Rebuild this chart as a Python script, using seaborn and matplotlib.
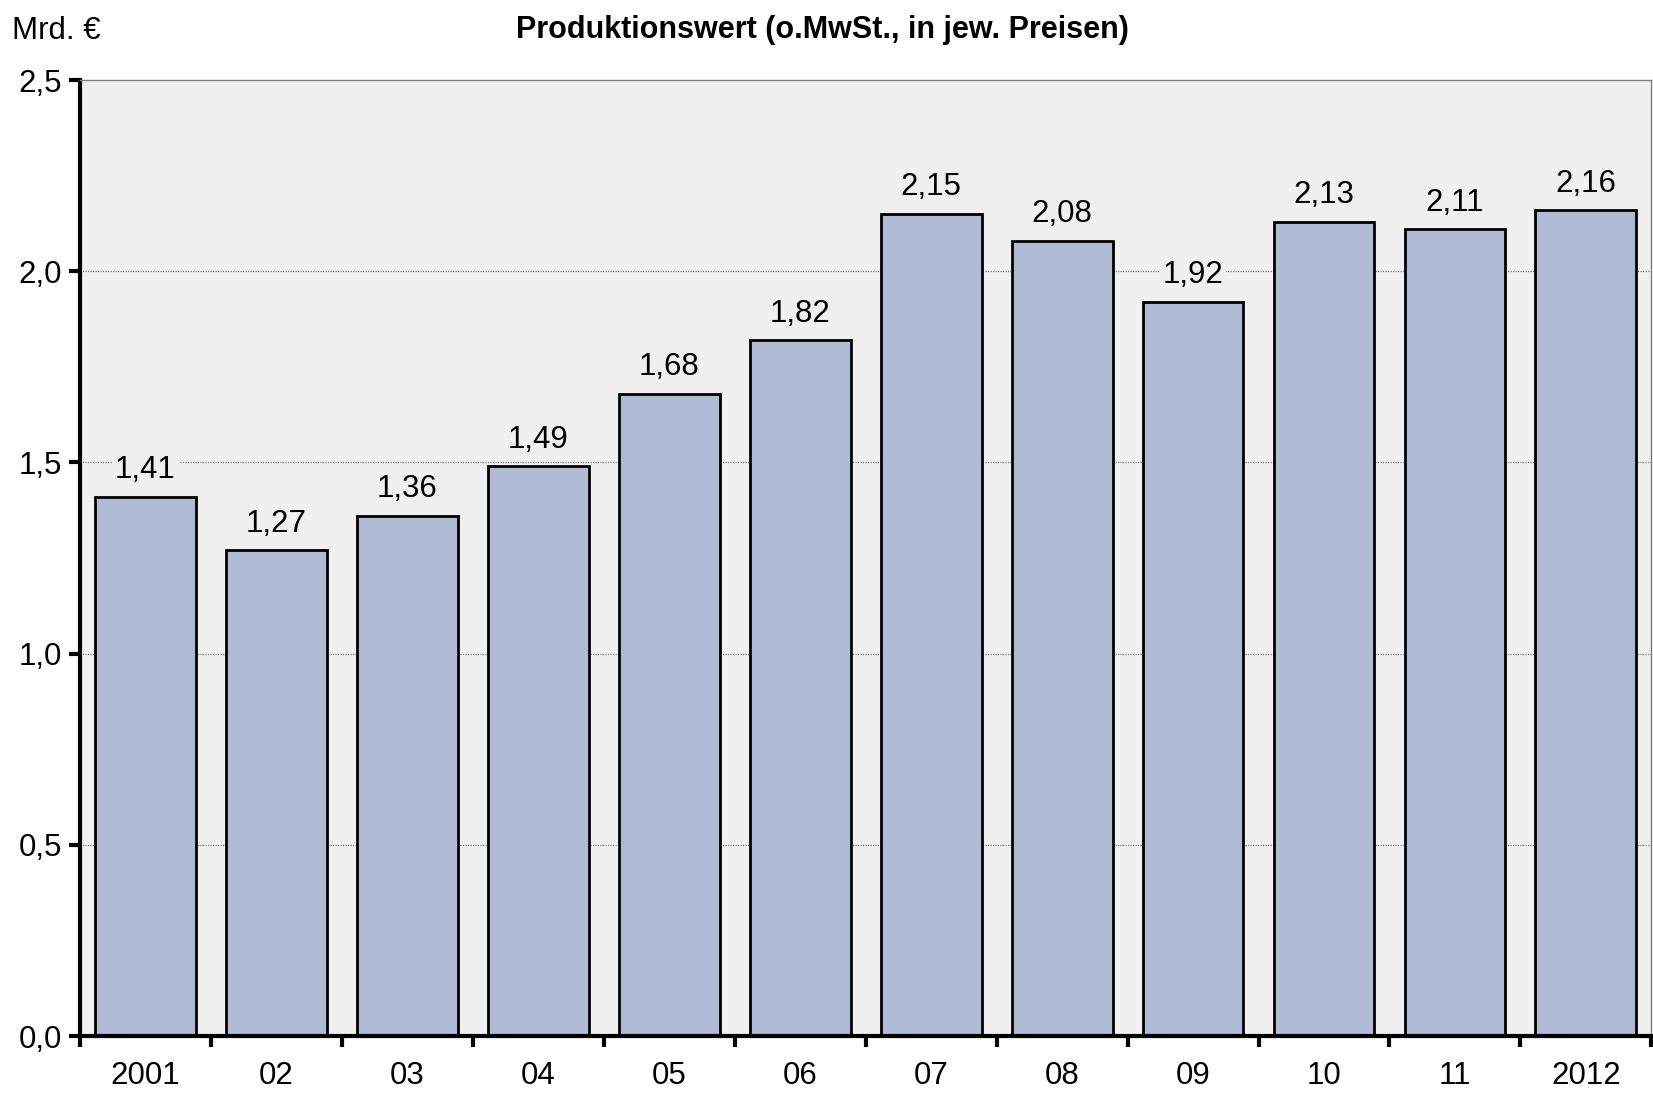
import numpy as np
import pandas as pd
import matplotlib
matplotlib.use('Agg')
import matplotlib.pyplot as plt
import seaborn as sns

# Daten
jahre = ['2001', '02', '03', '04', '05', '06', '07', '08', '09', '10', '11', '2012']
werte = [1.41, 1.27, 1.36, 1.49, 1.68, 1.82, 2.15, 2.08, 1.92, 2.13, 2.11, 2.16]
y_ticks = [0.0, 0.5, 1.0, 1.5, 2.0, 2.5]

sns.set_style('white')
plt.rcParams['font.family'] = ['Liberation Sans', 'DejaVu Sans']
plt.rcParams['text.color'] = 'black'
plt.rcParams['xtick.color'] = 'black'
plt.rcParams['ytick.color'] = 'black'
plt.rcParams['xtick.labelcolor'] = 'black'
plt.rcParams['ytick.labelcolor'] = 'black'

df = pd.DataFrame({'Jahr': jahre, 'Wert': werte})

fig = plt.figure(figsize=(16.53, 10.96), dpi=100)
ax = fig.add_axes([0.0484, 0.0547, 0.9506, 0.8723])
ax.set_facecolor('#F0F0F0')

sns.barplot(data=df, x='Jahr', y='Wert', color='#B0BAD4', saturation=1,
            width=0.77, edgecolor='black', linewidth=2, ax=ax, zorder=3)

ax.set_xlim(-0.5, len(jahre) - 0.5)
ax.set_ylim(0, 2.5)
ax.set_yticks(y_ticks)
ax.set_yticklabels([f'{v:.1f}'.replace('.', ',') for v in y_ticks], fontsize=22.5)
ax.set_xlabel('')
ax.set_ylabel('')

# Gitterlinien
for v in y_ticks[1:-1]:
    ax.axhline(v, color='#808080', linestyle=(0, (1, 1)), linewidth=0.9, zorder=1)

# Achsen
ax.spines['left'].set_linewidth(3)
ax.spines['bottom'].set_linewidth(3)
ax.spines['left'].set_color('black')
ax.spines['bottom'].set_color('black')
ax.spines['top'].set_linewidth(1)
ax.spines['top'].set_color('#808080')
ax.spines['right'].set_linewidth(1)
ax.spines['right'].set_color('#808080')
for s in ax.spines.values():
    s.set_zorder(5)

ax.set_xticks(range(len(jahre)))
ax.set_xticklabels(jahre, fontsize=22.5)
ax.set_xticks(np.arange(-0.5, len(jahre), 1), minor=True)
ax.tick_params(axis='x', which='major', length=0, pad=18)
ax.tick_params(axis='x', which='minor', length=8, width=3, direction='out', bottom=True)
ax.tick_params(axis='y', length=8, width=3, direction='out', left=True, pad=5)

# Werte über den Balken
for i, v in enumerate(werte):
    ax.text(i, v + 0.03, f'{v:.2f}'.replace('.', ','), ha='center', va='bottom',
            fontsize=22.5, zorder=4,
            bbox=dict(facecolor='#F0F0F0', edgecolor='none', pad=2))

fig.text(0.0073, 0.972, 'Mrd. €', fontsize=22.5, ha='left', va='center')
fig.text(0.4975, 0.973, 'Produktionswert (o.MwSt., in jew. Preisen)', fontsize=22,
         fontweight='bold', ha='center', va='center')

fig.savefig('out.png', dpi=100)
